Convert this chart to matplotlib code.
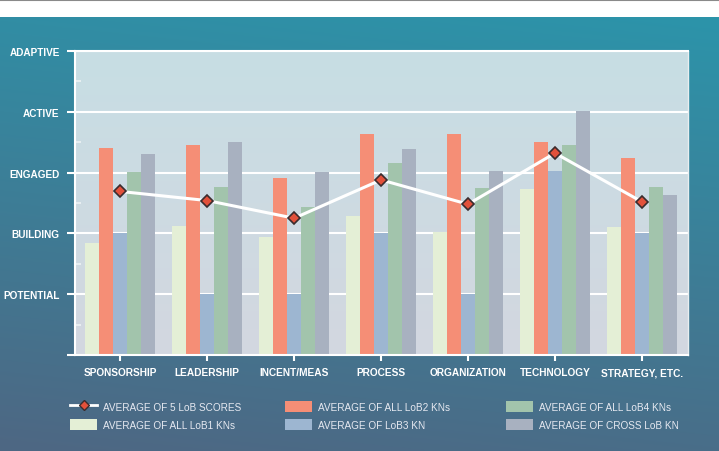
import numpy as np
import matplotlib
matplotlib.use('Agg')
import matplotlib.pyplot as plt
from matplotlib.patches import Patch
from matplotlib.lines import Line2D
from matplotlib.colors import to_rgb

plt.rcParams['font.family'] = ['Liberation Sans', 'DejaVu Sans']

# 数据
categories = ['SPONSORSHIP', 'LEADERSHIP', 'INCENT/MEAS', 'PROCESS',
              'ORGANIZATION', 'TECHNOLOGY', 'STRATEGY, ETC.']
level_labels = ['', 'POTENTIAL', 'BUILDING', 'ENGAGED', 'ACTIVE', 'ADAPTIVE']

lob1 = [1.84, 2.12, 1.94, 2.28, 2.03, 2.73, 2.10]
lob2 = [3.41, 3.45, 2.91, 3.64, 3.64, 3.51, 3.24]
lob3 = [2.01, 1.01, 1.01, 2.01, 1.01, 3.02, 2.01]
lob4 = [3.01, 2.76, 2.43, 3.15, 2.74, 3.45, 2.76]
cross = [3.30, 3.51, 3.01, 3.39, 3.02, 4.01, 2.63]
avg5 = [2.69, 2.54, 2.25, 2.88, 2.48, 3.32, 2.52]

series_labels = ['AVERAGE OF ALL LoB1 KNs', 'AVERAGE OF ALL LoB2 KNs',
                 'AVERAGE OF LoB3 KN', 'AVERAGE OF ALL LoB4 KNs',
                 'AVERAGE OF CROSS LoB KN']
avg_label = 'AVERAGE OF 5 LoB SCORES'

COLORS = ['#E4EFD6', '#F58E76', '#9DB6D1', '#A2C4AC', '#A8B1C0']
MARKER_FACE = '#E2513B'
MARKER_EDGE = '#3A2C2E'


def vgrad(top, bottom, n=256):
    t = np.linspace(0, 1, n)[:, None]
    a, b = np.array(to_rgb(top)), np.array(to_rgb(bottom))
    return a[None, :] * (1 - t[..., None]) + b[None, :] * t[..., None]


fig = plt.figure(figsize=(7.19, 4.52), dpi=100, facecolor='white')

# 背景渐变（青色 -> 灰蓝）
bg = fig.add_axes([0, 0, 1, 1], zorder=-10)
bg.set_xlim(0, 1)
bg.set_ylim(0, 1)
bg.axis('off')
h, w = 200, 200
vv = np.linspace(0, 1, h)[:, None]
hh = np.linspace(0, 1, w)[None, :]
t = np.clip(vv * 0.85 + (1 - hh) * 0.15, 0, 1)
top_c, bot_c = np.array(to_rgb('#2C94AA')), np.array(to_rgb('#4E6783'))
img = top_c[None, None, :] * (1 - t[..., None]) + bot_c[None, None, :] * t[..., None]
bg.imshow(img, extent=(0, 1, 0, 1 - 18 / 452), aspect='auto', origin='upper')
bg.axhline(1 - 1 / 452, color='#8A8A8A', lw=1.5)

# 主图
ax = fig.add_axes([75 / 719, 1 - 356 / 452, (688 - 75) / 719, (356 - 52) / 452])
x = np.arange(len(categories))
xlim = (-0.52, 6.53)
ax.set_xlim(*xlim)
ax.set_ylim(0, 5)
ax.imshow(vgrad('#C7DEE4', '#D3D7E0'), extent=(xlim[0], xlim[1], 0, 5),
          aspect='auto', zorder=-1, origin='upper')

bw = 0.16
for i, (vals, c) in enumerate(zip([lob1, lob2, lob3, lob4, cross], COLORS)):
    ax.bar(x + (i - 2) * bw, vals, width=bw, color=c, zorder=2, linewidth=0)

ax.plot(x, avg5, color='white', lw=2.2, marker='D', ms=6,
        mfc=MARKER_FACE, mec=MARKER_EDGE, mew=1.2, zorder=5)

ax.set_yticks(range(6))
ax.set_yticklabels(level_labels)
ax.set_yticks(np.arange(0.5, 5, 1), minor=True)
ax.set_xticks(x)
ax.set_xticklabels(categories)
ax.grid(axis='y', color='white', lw=1.5)
ax.set_axisbelow(True)
ax.grid(axis='x', visible=False)

for side in ['left', 'bottom', 'top']:
    ax.spines[side].set_color('white')
    ax.spines[side].set_linewidth(1.5)
ax.spines['right'].set_color('#E8EEF0')
ax.spines['right'].set_linewidth(1.0)

ax.tick_params(axis='y', which='major', direction='out', length=6, width=1.5,
               color='white', pad=5, labelsize=7.2, labelcolor='white')
ax.tick_params(axis='y', which='minor', direction='in', length=4, width=1.2,
               color='#EEF3F5')
ax.tick_params(axis='x', direction='out', length=4, width=1.5, color='white',
               pad=5, labelsize=7.3, labelcolor='white')
for lab in ax.get_xticklabels() + ax.get_yticklabels():
    lab.set_fontweight('bold')

# 图例：三列分别放置
handles = [Line2D([0], [0], color='white', lw=2, marker='D', ms=5,
                  mfc=MARKER_FACE, mec=MARKER_EDGE, mew=1)]
handles += [Patch(facecolor=c, edgecolor='none') for c in COLORS]
labels = [avg_label] + series_labels
col_x = [0.085, 0.384, 0.691]
for k, cx in enumerate(col_x):
    fig.legend(handles[2 * k:2 * k + 2], labels[2 * k:2 * k + 2], ncol=1,
               loc='upper left', bbox_to_anchor=(cx, 0.131), frameon=False,
               fontsize=7.2, labelcolor='#E6E9F1', handlelength=2.7,
               handleheight=1.4, handletextpad=0.6, labelspacing=0.66,
               borderpad=0.4)

fig.savefig('out.png', dpi=100, facecolor='white')
